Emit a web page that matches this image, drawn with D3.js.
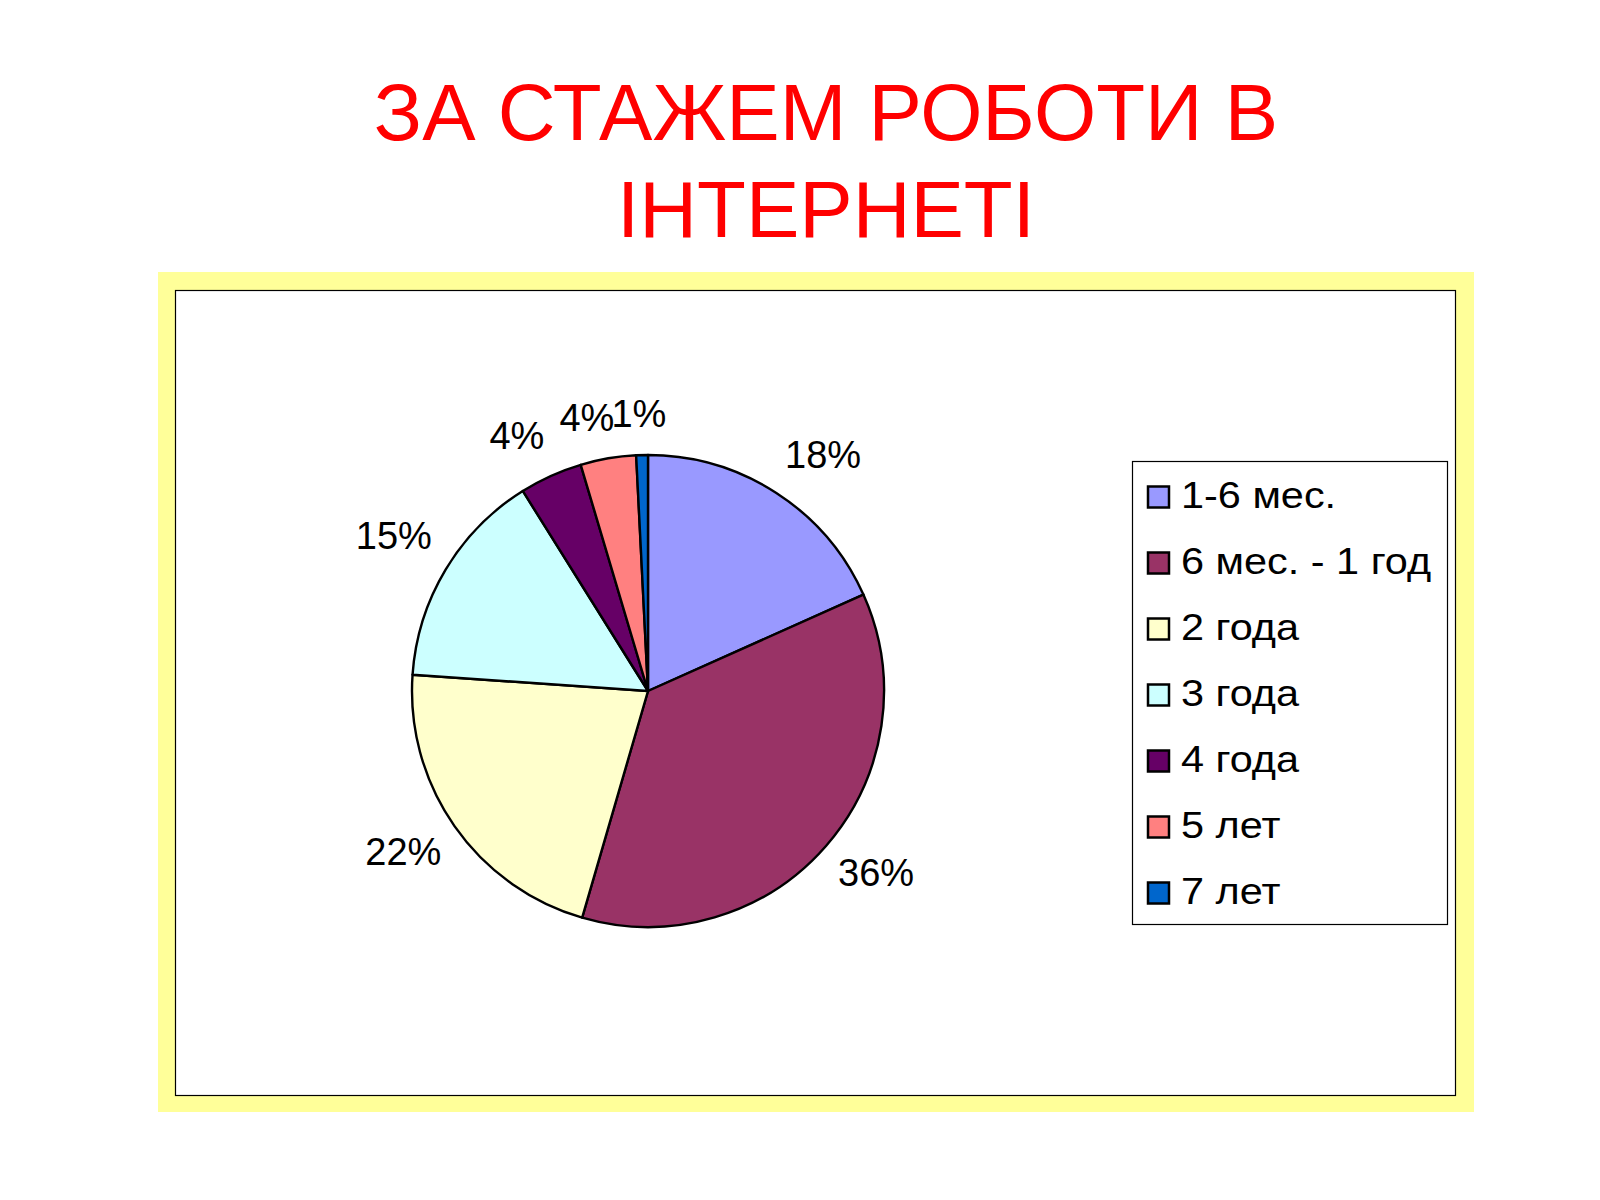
<!DOCTYPE html>
<html>
<head>
<meta charset="utf-8">
<script src="https://cdn.jsdelivr.net/npm/d3@7"></script>
<style>
  body { margin: 0; background: #fff; }
  svg text { font-family: "Liberation Sans", Arial, sans-serif; }
</style>
</head>
<body>
<div id="chart"></div>
<script>
// categories, values (%) and colours
const categories = ["1-6 мес.", "6 мес. - 1 год", "2 года", "3 года", "4 года", "5 лет", "7 лет"]
const values = [18.3, 36.2, 21.6, 15.0, 4.3, 3.8, 0.8]
const colors = ["#9999FF", "#993366", "#FFFFCC", "#CCFFFF", "#660066", "#FF8080", "#0066CC"]
const titleLines = ["ЗА СТАЖЕМ РОБОТИ В", "ІНТЕРНЕТІ"]

const W = 1600, H = 1200
const svg = d3.select("#chart").append("svg").attr("width", W).attr("height", H)

// title
svg.append("g").selectAll("text")
    .data(titleLines)
    .enter()
    .append("text")
    .attr("x", 826)
    .attr("y", (d, i) => 140 + i * 97)
    .attr("text-anchor", "middle")
    .style("font-size", "80px")
    .style("fill", "#ff0000")
    .text(d => d)

// yellow frame + plot area
svg.append("rect").attr("x", 158).attr("y", 272).attr("width", 1316).attr("height", 840).attr("fill", "#ffff99")
svg.append("rect").attr("x", 175.5).attr("y", 290.5).attr("width", 1280).attr("height", 805)
    .attr("fill", "#fff").attr("stroke", "#000").attr("stroke-width", 1.2)

// pie
const cx = 648, cy = 691, R = 236
const pie = d3.pie().sort(null).value(d => d)
const arcs = pie(values)
const arc = d3.arc().innerRadius(0).outerRadius(R)

const g = svg.append("g").attr("transform", `translate(${cx},${cy})`)
g.selectAll(".slice")
    .data(arcs)
    .enter()
    .append("path")
    .attr("class", "slice")
    .attr("d", arc)
    .attr("fill", (d, i) => colors[i])
    .attr("stroke", "#000")
    .attr("stroke-width", 2.4)
    .attr("stroke-linejoin", "round")

// percentage labels: the label box touches a circle outside the pie,
// with the touching point sliding along the box as the angle turns
const labelR = 252
const fs = 38
const capH = fs * 0.72, padTop = 2, padBot = 12
const clamp = v => Math.max(0, Math.min(1, v))
g.selectAll(".lbl")
    .data(arcs)
    .enter()
    .append("text")
    .attr("class", "lbl")
    .style("font-size", fs + "px")
    .style("fill", "#000")
    .text(d => Math.round(d.value) + "%")
    .each(function (d) {
        const a = (d.startAngle + d.endAngle) / 2
        const s = Math.sin(a), c = Math.cos(a)
        const w = this.getComputedTextLength()
        const bh = capH + padTop + padBot
        const px = labelR * s, py = -labelR * c
        const fx = clamp(0.5 - 2 * s), fy = clamp(0.5 + 2 * c)
        const left = px - fx * w
        const top = py - fy * bh
        d3.select(this).attr("x", left).attr("y", top + padTop + capH)
    })

// legend
const lx = 1132.5, ly = 461.5, lw = 315, lh = 463
const leg = svg.append("g")
leg.append("rect").attr("x", lx).attr("y", ly).attr("width", lw).attr("height", lh)
    .attr("fill", "#fff").attr("stroke", "#000").attr("stroke-width", 1.2)

const rowY = d3.scalePoint().domain(categories).range([497, 893])
const items = leg.selectAll(".item")
    .data(categories)
    .enter()
    .append("g")
    .attr("class", "item")
    .attr("transform", d => `translate(0,${rowY(d)})`)
items.append("rect")
    .attr("x", 1148).attr("y", -10.5).attr("width", 21).attr("height", 21)
    .attr("fill", (d, i) => colors[i]).attr("stroke", "#000").attr("stroke-width", 2.5)
items.append("text")
    .attr("transform", "translate(1181,11) scale(1.12,1)")
    .style("font-size", "37px")
    .style("fill", "#000")
    .text(d => d)
</script>
</body>
</html>
